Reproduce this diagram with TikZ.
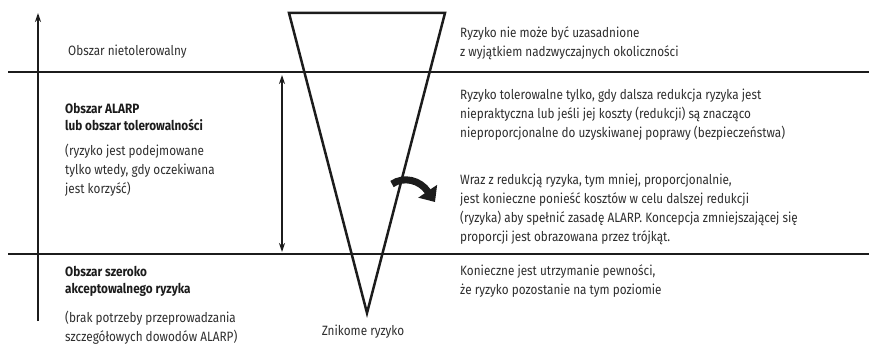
\documentclass[tikz,border=0pt]{standalone}
\usepackage{fontspec}
\setmainfont[FakeStretch=0.87]{Fira Sans}
\usetikzlibrary{positioning, arrows.meta, calc}
\usepackage{xcolor}
\definecolor{riskink}{HTML}{1C1C1C}
\definecolor{lightink}{HTML}{2E2E2E}

\begin{document}
\begin{tikzpicture}[x=1pt, y=-1pt,
      txt/.style={anchor=west, align=left, inner sep=0pt, text=lightink, font=\fontsize{13.5}{19}\selectfont},
      hd/.style={txt, text=riskink, font=\fontsize{13.5}{17}\selectfont\bfseries},
      rule/.style={draw=riskink, line width=2pt},
      axis/.style={draw=riskink, line width=1.5pt}]
    \useasboundingbox (0,0) rectangle (869,345);
    % zones
    \draw[rule] (8,72) -- (869,72);
    \draw[rule] (8,254) -- (869,254);
    % triangle
    \coordinate (tl) at (289,13); \coordinate (tr) at (445,13); \coordinate (tb) at (367,313);
    \draw[draw=riskink, line width=2.5pt, line join=miter] (tl) -- (tr) -- (tb) -- cycle;
    % arrows
    \coordinate (ax0) at (38,321); \coordinate (ax1) at (38,13);
    \draw[axis, -{Stealth[length=9pt, width=6pt]}] (ax0) -- (ax1);
    \coordinate (al0) at (282,75); \coordinate (al1) at (282,252);
    \draw[axis, {Stealth[length=9pt, width=6pt]}-{Stealth[length=9pt, width=6pt]}] (al0) -- (al1);
    \coordinate (cv0) at (392,184); \coordinate (cv1) at (435,202);
    \draw[draw=riskink, line width=7pt, -{Triangle[length=13pt, width=22pt]}]
      (cv0) .. controls (404,176) and (420,180) .. (cv1);
    % left labels
    \node[txt] (intol) at (68,52) {Obszar nietolerowalny};
    \node[hd] (alarp) at (65,116.5) {Obszar ALARP\\lub obszar tolerowalności};
    \node[txt] (alarpnote) at (65,170) {(ryzyko jest podejmowane\\tylko wtedy, gdy oczekiwana\\jest korzyść)};
    \node[hd] (broad) at (65,281.5) {Obszar szeroko\\akceptowalnego ryzyka};
    \node[txt] (broadnote) at (65,328) {(brak potrzeby przeprowadzania\\szczegółowych dowodów ALARP)};
    \node[txt, anchor=center] (negl) at (363,332) {Znikome ryzyko};
    % right labels
    \node[txt] (r1) at (460,43.5) {Ryzyko nie może być uzasadnione\\z wyjątkiem nadzwyczajnych okoliczności};
    \node[txt] (r2) at (460,115) {Ryzyko tolerowalne tylko, gdy dalsza redukcja ryzyka jest\\niepraktyczna lub jeśli jej koszty (redukcji) są znacząco\\nieproporcjonalne do uzyskiwanej poprawy (bezpieczeństwa)};
    \node[txt] (r3) at (460,209) {Wraz z redukcją ryzyka, tym mniej, proporcjonalnie,\\jest konieczne ponieść kosztów w celu dalszej redukcji\\(ryzyka) aby spełnić zasadę ALARP. Koncepcja zmniejszającej się\\proporcji jest obrazowana przez trójkąt.};
    \node[txt] (r4) at (460,281.5) {Konieczne jest utrzymanie pewności,\\że ryzyko pozostanie na tym poziomie};
  \end{tikzpicture}
\end{document}
